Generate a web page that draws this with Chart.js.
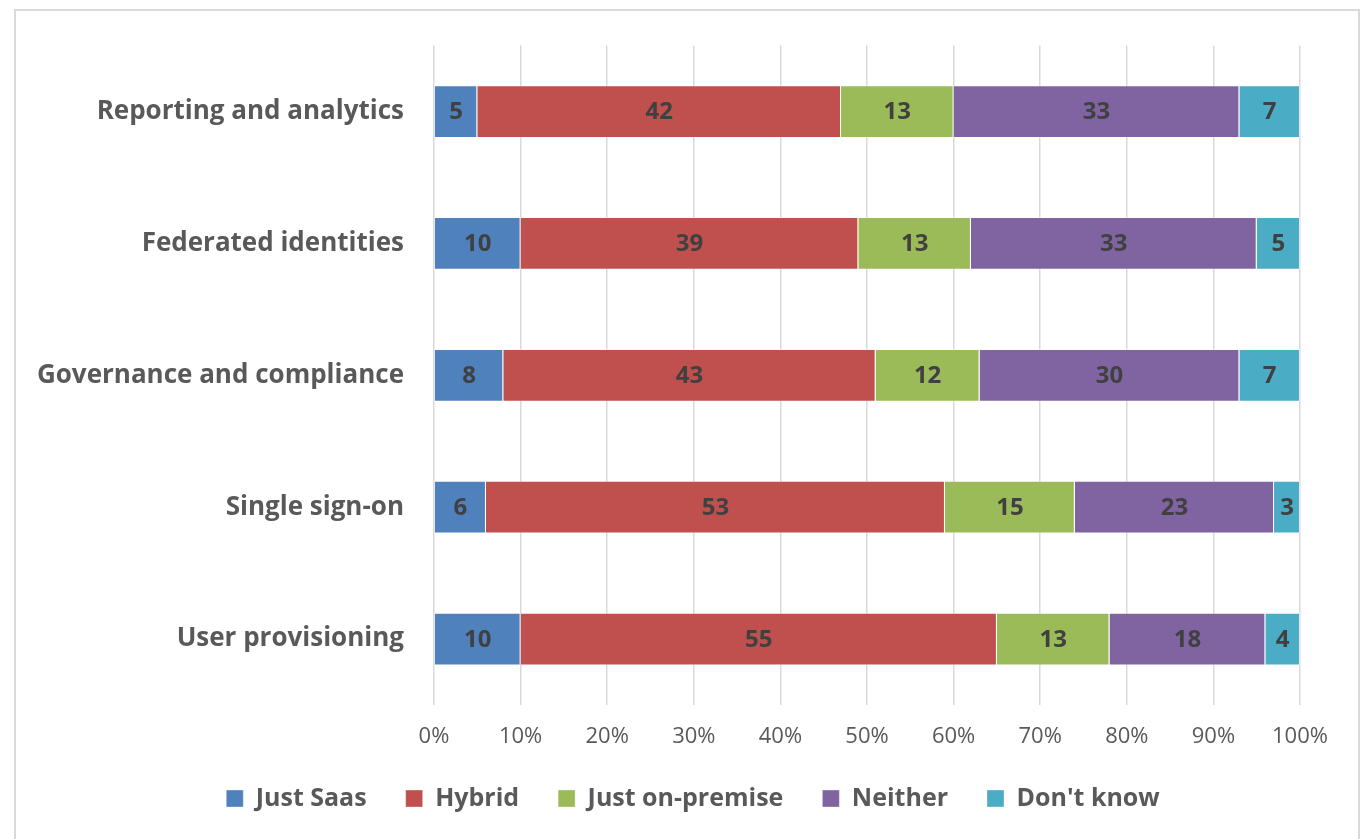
<!DOCTYPE html>
<html>
<head>
<meta charset="utf-8">
<script src="https://cdn.jsdelivr.net/npm/chart.js@4.4.1/dist/chart.umd.min.js"></script>
<style>
  html, body { margin: 0; padding: 0; background: #fff; }
  #frame { position: absolute; left: 14px; top: 9px; width: 1346px; height: 860px; border: 2px solid #d9d9d9; box-sizing: border-box; }
  #wrap { position: absolute; left: 0; top: 0; width: 1366px; height: 839px; }
</style>
</head>
<body>
<div id="frame"></div>
<div id="wrap"><canvas id="survey"></canvas></div>
<script>
var categories = ["Reporting and analytics", "Federated identities", "Governance and compliance", "Single sign-on", "User provisioning"];
var seriesNames = ["Just Saas", "Hybrid", "Just on-premise", "Neither", "Don't know"];
var justSaas = [5, 10, 8, 6, 10];
var hybrid = [42, 39, 43, 53, 55];
var justOnPremise = [13, 13, 12, 15, 13];
var neither = [33, 33, 30, 23, 18];
var dontKnow = [7, 5, 7, 3, 4];
var tickLabels = ["0%", "10%", "20%", "30%", "40%", "50%", "60%", "70%", "80%", "90%", "100%"];

var colors = ['#4f81bd', '#c0504d', '#9bbb59', '#8064a2', '#4bacc6'];
var allValues = [justSaas, hybrid, justOnPremise, neither, dontKnow];

var datasets = [];
for (var i = 0; i < seriesNames.length; i++) {
    datasets.push({
        label: seriesNames[i],
        data: allValues[i],
        backgroundColor: colors[i],
        borderColor: 'rgba(255,255,255,0.35)',
        borderWidth: 1,
        barPercentage: 0.4,
        categoryPercentage: 1.0
    });
}

// draw the value in the middle of each segment
var valueLabels = {
    id: 'valueLabels',
    afterDatasetsDraw: function(chart) {
        var ctx = chart.ctx;
        ctx.save();
        ctx.font = 'bold 24px "Open Sans"';
        ctx.fillStyle = '#404040';
        ctx.textAlign = 'center';
        ctx.textBaseline = 'middle';
        chart.data.datasets.forEach(function(ds, di) {
            chart.getDatasetMeta(di).data.forEach(function(bar, j) {
                var p = bar.getCenterPoint();
                ctx.fillText(ds.data[j], p.x, p.y + 1);
            });
        });
        ctx.restore();
    }
};

// nudge the legend a bit right, like the original
var legendShift = {
    id: 'legendShift',
    afterLayout: function(chart) {
        if (chart.legend) {
            chart.legend.left += 43;
            chart.legend.right += 43;
        }
    }
};

var ctx = document.getElementById('survey').getContext('2d');
var myChart = new Chart(ctx, {
    type: 'bar',
    data: { labels: categories, datasets: datasets },
    plugins: [valueLabels, legendShift],
    options: {
        indexAxis: 'y',
        responsive: true,
        maintainAspectRatio: false,
        animation: false,
        layout: { padding: { top: 36, right: 66, bottom: 18, left: 0 } },
        plugins: {
            tooltip: { enabled: false },
            legend: {
                display: true,
                position: 'bottom',
                labels: {
                    boxWidth: 17,
                    boxHeight: 17,
                    padding: 39,
                    color: '#595959',
                    font: { family: 'Open Sans', size: 25, weight: 'bold' }
                }
            }
        },
        scales: {
            x: {
                stacked: true,
                min: 0,
                max: 100,
                ticks: {
                    stepSize: 10,
                    padding: 19,
                    color: '#595959',
                    font: { family: 'Open Sans', size: 22 },
                    callback: function(v, idx) { return tickLabels[idx]; }
                },
                grid: { color: '#d9d9d9', lineWidth: 1.5, drawTicks: false },
                border: { display: false },
                afterFit: function(scale) { scale.height = 42; }
            },
            y: {
                stacked: true,
                ticks: {
                    padding: 30,
                    color: '#595959',
                    font: { family: 'Open Sans', size: 26, weight: 'bold' }
                },
                grid: { display: false, drawTicks: false },
                border: { display: false },
                afterFit: function(scale) { scale.width = 434; }
            }
        }
    }
});
</script>
</body>
</html>
